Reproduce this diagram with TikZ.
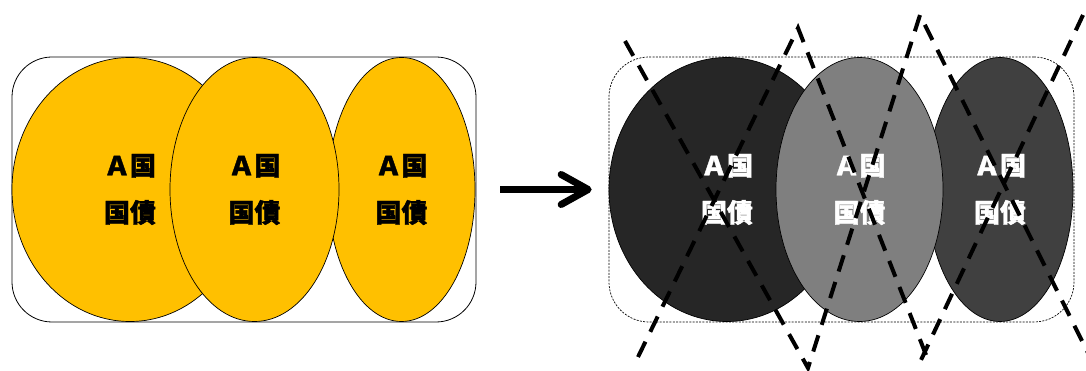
\documentclass[tikz,border=0pt]{standalone}
\usepackage{fontspec}
\newfontfamily\jpfont{Noto Sans CJK JP}[BoldFeatures={FakeBold=1.5}]
\usepackage{xcolor}
\usepackage{tikz}
\usetikzlibrary{shapes.geometric}
\usetikzlibrary{positioning}
\usetikzlibrary{arrows.meta}
\definecolor{gold}{HTML}{FFC000}
\definecolor{shadeA}{HTML}{262626}
\definecolor{shadeB}{HTML}{7F7F7F}
\definecolor{shadeC}{HTML}{404040}
\tikzstyle{basket} = [draw, rectangle, rounded corners=40pt, line width=0.8pt,
minimum height=265pt, inner sep=0pt]
\tikzstyle{bond} = [draw, ellipse, line width=0.7pt, minimum height=264pt,
inner sep=0pt, align=center, font=\jpfont\bfseries\fontsize{26}{47}\selectfont]
\tikzstyle{xline} = [draw, line width=4pt, dash pattern=on 17pt off 11pt]
\tikzstyle{bigarrow} = [draw, line width=7pt, -{Straight Barb[round,length=27pt,width=30pt]}]

\begin{document}
\begin{tikzpicture}[x=1pt, y=-1pt]
      \useasboundingbox (0,0) rectangle (1086,371);
      %% Before: one basket of bonds
      \node [basket, minimum width=464pt] (before) at (244,189.5) {};
      \node [bond, fill=gold, minimum width=236pt] (a1) at (130,189.5) {Ａ国\\国債};
      \node [bond, fill=gold, minimum width=147pt] (a3) at (401.5,189.5) {Ａ国\\国債};
      \node [bond, fill=gold, minimum width=169pt] (a2) at (254.5,189.5) {Ａ国\\国債};
      %% After: the same bonds, struck out
      \node [basket, dash pattern=on 2pt off 1.3pt, line width=0.7pt, minimum width=465pt] (after) at (841.5,189.5) {};
      \node [bond, fill=shadeA, text=white, minimum width=236pt] (b1) at (727,189.5) {Ａ国\\国債};
      \node [bond, fill=shadeC, text=white, minimum width=146pt] (b3) at (1000,189.5) {Ａ国\\国債};
      \node [bond, fill=shadeB, text=white, minimum width=167pt] (b2) at (859.5,189.5) {Ａ国\\国債};
      %% Arrow
      \path [bigarrow] ([xshift=24pt]before.east) -- ([xshift=-17pt]after.west);
      %% Crosses
      \path [xline] (625,41) -- (808,368) -- (920,15) -- (1090,357);
      \path [xline] (638,357) -- (798,28) -- (928,360);
      \path [xline] (1083,15) -- (921,360);
    \end{tikzpicture}
\end{document}
